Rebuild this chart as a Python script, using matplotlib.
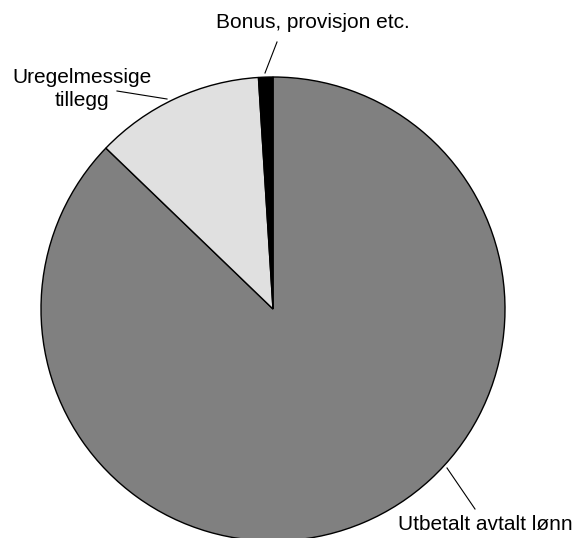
import matplotlib.pyplot as plt

plt.rcParams['font.family'] = ['Liberation Sans', 'DejaVu Sans']

# data
labels = ['Utbetalt avtalt lønn', 'Uregelmessige\ntillegg', 'Bonus, provisjon etc.']
values = [87.2, 11.8, 1.0]
colors = ['#808080', '#e0e0e0', '#000000']

W, H = 573, 538
fig = plt.figure(figsize=(W / 100, H / 100), dpi=100)

# pie centre (273, 309) px, radius 232 px
cx, cy, r = 273, 309, 232
ax = fig.add_axes([(cx - r) / W, (H - cy - r) / H, 2 * r / W, 2 * r / H])
ax.pie(values, colors=colors, startangle=90, counterclock=False, radius=1,
       wedgeprops=dict(edgecolor='black', linewidth=1))
ax.set_xlim(-1, 1)
ax.set_ylim(-1, 1)
ax.set_aspect('equal')
ax.axis('off')


def px(x, y):
    return ((x - cx) / r, (cy - y) / r)


# leader lines and labels (pixel positions from the reference)
ann = [
    (labels[0], (447, 468), (475, 509), (485, 524)),
    (labels[1], (167, 99), (117, 91), (82, 89)),
    (labels[2], (265, 73), (277, 42), (313, 22)),
]
for text, p0, p1, pt in ann:
    a, b = px(*p0), px(*p1)
    ax.plot([a[0], b[0]], [a[1], b[1]], color='black', lw=0.8, clip_on=False)
    ax.text(*px(*pt), text, ha='center', va='center', fontsize=15,
            clip_on=False, linespacing=1.3)

fig.savefig('out.png', dpi=100)
